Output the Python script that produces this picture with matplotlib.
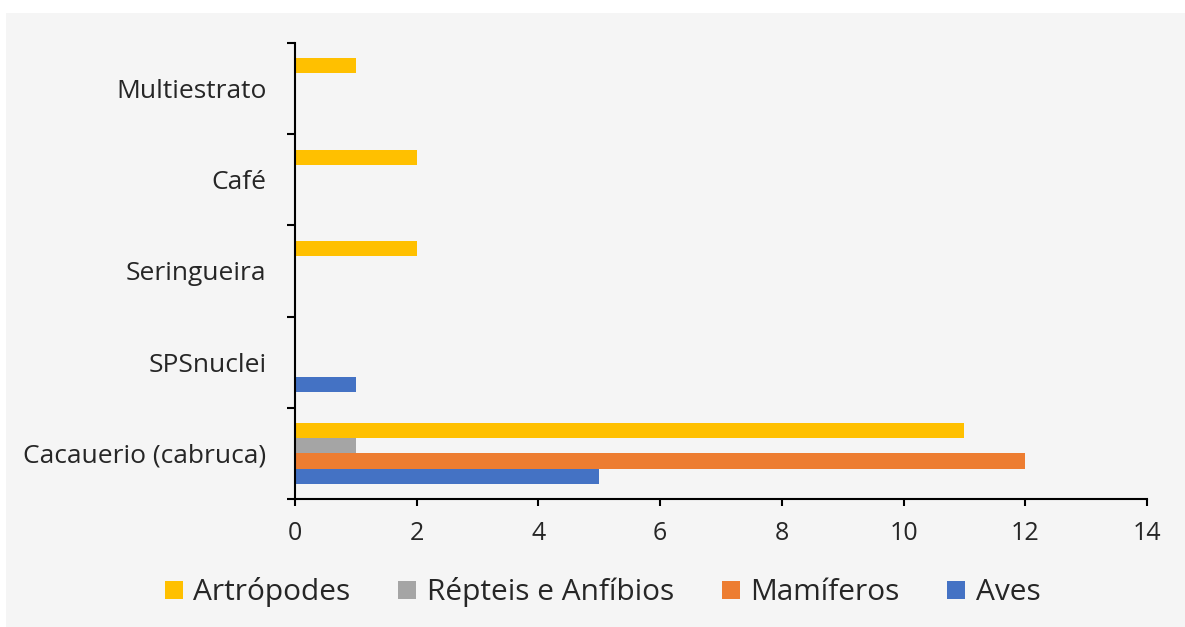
import matplotlib
matplotlib.use("Agg")
import matplotlib.pyplot as plt
from matplotlib.patches import Rectangle
from matplotlib.lines import Line2D
import numpy as np

# %% Data
categories = ["Cacauerio (cabruca)", "SPSnuclei", "Seringueira", "Café", "Multiestrato"]
aves = [5, 1, 0, 0, 0]
mamiferos = [12, 0, 0, 0, 0]
repteis = [1, 0, 0, 0, 0]
artropodes = [11, 0, 2, 2, 1]

series_names = ["Aves", "Mamíferos", "Répteis e Anfíbios", "Artrópodes"]
series_vals = [aves, mamiferos, repteis, artropodes]
series_cols = ["#4472C4", "#ED7D31", "#A5A5A5", "#FFC000"]
xticks = [0, 2, 4, 6, 8, 10, 12, 14]

# %% Plot
plt.rcParams["font.family"] = ["Open Sans", "DejaVu Sans"]
bg = "#F5F5F5"

fig = plt.figure(figsize=(11.85, 6.27), dpi=100, facecolor="white")
fig.patches.append(Rectangle((6/1185, 0), 1, (627-13)/627, transform=fig.transFigure,
                             facecolor=bg, edgecolor="none", zorder=-10))
ax = fig.add_axes([295/1185, (627-499)/627, (1147-295)/1185, (499-43)/627])
ax.set_facecolor(bg)

y = np.arange(len(categories))
h = 0.166
for i, (name, vals, col) in enumerate(zip(series_names, series_vals, series_cols)):
    ax.barh(y + (i - 1.5)*h, vals, height=h, color=col, linewidth=0, label=name)

ax.set_xlim(0, 14)
ax.set_ylim(-0.5, len(categories) - 0.5)
ax.set_xticks(xticks)
ax.set_yticks(y)
ax.set_yticklabels(categories)
ax.set_yticks(np.arange(-0.5, len(categories)), minor=True)

for s in ["top", "right"]:
    ax.spines[s].set_visible(False)
for s in ["left", "bottom"]:
    ax.spines[s].set_linewidth(1.5)
    ax.spines[s].set_color("black")

ax.tick_params(axis="y", which="major", length=0, pad=20.5, labelsize=19, labelcolor="#262626")
ax.tick_params(axis="y", which="minor", length=6, width=1.5, color="black")
ax.tick_params(axis="x", length=5, width=1.5, pad=11, labelsize=18, labelcolor="#262626")

handles = [Line2D([], [], marker="s", linestyle="none", markersize=13,
                  markerfacecolor=c, markeredgewidth=0) for c in series_cols[::-1]]
fig.legend(handles, series_names[::-1], loc="center", bbox_to_anchor=(0.5085, 1 - 592/627),
           ncol=4, frameon=False, fontsize=21.5, handlelength=0.6, handletextpad=0.35,
           columnspacing=1.6, labelcolor="#262626")

fig.savefig("out.png", dpi=100, facecolor="white")
